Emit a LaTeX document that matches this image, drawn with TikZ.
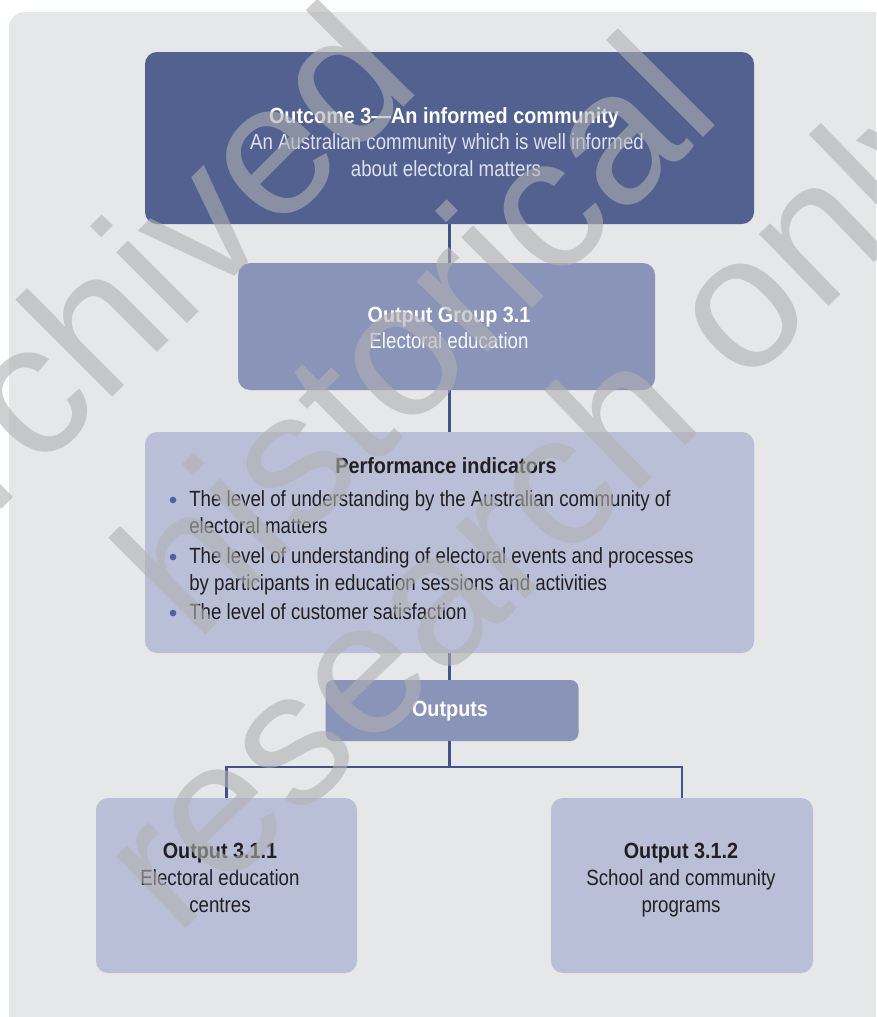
\documentclass[tikz,border=0pt]{standalone}
\usepackage{fontspec}
\setmainfont{Liberation Sans}[FakeStretch=0.85, BoldFeatures={FakeStretch=0.9}]
\newfontfamily\wmfont{Liberation Sans}
\definecolor{bgc}{RGB}{230,231,233}
\definecolor{darkbox}{RGB}{82,97,144}
\definecolor{midbox}{RGB}{138,148,184}
\definecolor{lightbox}{RGB}{186,191,216}
\definecolor{linec}{RGB}{66,82,140}
\definecolor{bulletc}{RGB}{82,97,160}
\definecolor{darktxt}{RGB}{35,31,32}
\definecolor{subtxt}{RGB}{222,225,236}
\definecolor{wmc}{RGB}{176,176,178}
\tikzset{
  boxshape/.style={rounded corners=9pt, inner sep=0pt, outer sep=0pt},
  conn/.style={draw=linec, line width=2.1pt},
  txt/.style={anchor=base, inner sep=0pt, font=\fontsize{16.5}{20}\selectfont},
  btxt/.style={txt, font=\fontsize{16.5}{20}\selectfont\bfseries},
  ltxt/.style={txt, anchor=base west},
  bul/.style={circle, fill=bulletc, minimum size=5pt, inner sep=0pt},
  wm/.style={anchor=west, inner sep=0pt, text=wmc, text opacity=0.6, font=\wmfont\fontsize{142}{150}\selectfont}
}
\begin{document}
\begin{tikzpicture}[x=0.75pt, y=-0.75pt]
\useasboundingbox (0,0) rectangle (876,1017);
\clip (0,0) rectangle (876,1017);
\fill[white] (0,0) rectangle (876,1017);
\fill[bgc, rounded corners=12pt] (9,12) rectangle (920,1060);

% boxes
\node[boxshape, fill=darkbox, minimum width=609*0.75pt, minimum height=172*0.75pt] (top) at (449.5,138) {};
\node[boxshape, fill=midbox, minimum width=417*0.75pt, minimum height=127*0.75pt] (grp) at (446.5,326.5) {};
\node[boxshape, fill=lightbox, minimum width=609*0.75pt, minimum height=221*0.75pt] (perf) at (449.5,542.5) {};
\node[boxshape, fill=midbox, minimum width=253*0.75pt, minimum height=61*0.75pt, rounded corners=6pt] (outs) at (452,710.5) {};
\node[boxshape, fill=lightbox, minimum width=261*0.75pt, minimum height=175*0.75pt] (o1) at (226.5,885.5) {};
\node[boxshape, fill=lightbox, minimum width=262*0.75pt, minimum height=175*0.75pt] (o2) at (682,885.5) {};

% connectors
\coordinate (j) at (449.5,767);
\draw[conn] (449.5,224) -- (449.5,263);
\draw[conn] (449.5,390) -- (449.5,432);
\draw[conn] (449.5,653) -- (449.5,680);
\draw[conn] (449.5,741) -- (j);
\draw[conn, line join=miter] (j) -| (o1.north);
\draw[conn, line join=miter] (j) -| (o2.north);

% top box text
\node[btxt, text=white] (t1) at (444,123) {Outcome 3—An informed community};
\node[txt, text=subtxt] (t2) at (447,149.5) {An Australian community which is well informed};
\node[txt, text=subtxt] (t3) at (446,176) {about electoral matters};

% group text
\node[btxt, text=white] (g1) at (449,322) {Output Group 3.1};
\node[txt, text=white!94!midbox] (g2) at (449,348) {Electoral education};

% performance
\node[btxt, text=darktxt] (p0) at (446,473) {Performance indicators};
\node[bul] (b1) at (173,500) {};
\node[bul] (b2) at (173,557) {};
\node[bul] (b3) at (173,613) {};
\node[ltxt, text=darktxt] (l1) at (189,506) {The level of understanding by the Australian community of};
\node[ltxt, text=darktxt] (l2) at (189,533) {electoral matters};
\node[ltxt, text=darktxt] (l3) at (189,563) {The level of understanding of electoral events and processes};
\node[ltxt, text=darktxt] (l4) at (189,590) {by participants in education sessions and activities};
\node[ltxt, text=darktxt] (l5) at (189,619) {The level of customer satisfaction};

% outputs
\node[btxt, text=white] (ou) at (450,716) {Outputs};
\node[btxt, text=darktxt] (a1) at (220,858) {Output 3.1.1};
\node[txt, text=darktxt] (a2) at (220,885) {Electoral education};
\node[txt, text=darktxt] (a3) at (220,912) {centres};
\node[btxt, text=darktxt] (c1) at (681,858) {Output 3.1.2};
\node[txt, text=darktxt] (c2) at (681,885) {School and community};
\node[txt, text=darktxt] (c3) at (681,912) {programs};

% watermark
\node[wm, rotate=45] (w1) at (-130,545) {archived};
\node[wm, rotate=45] (w2) at (148,597) {historical};
\node[wm, rotate=44] (w3) at (142,902) {research only};
\end{tikzpicture}
\end{document}
